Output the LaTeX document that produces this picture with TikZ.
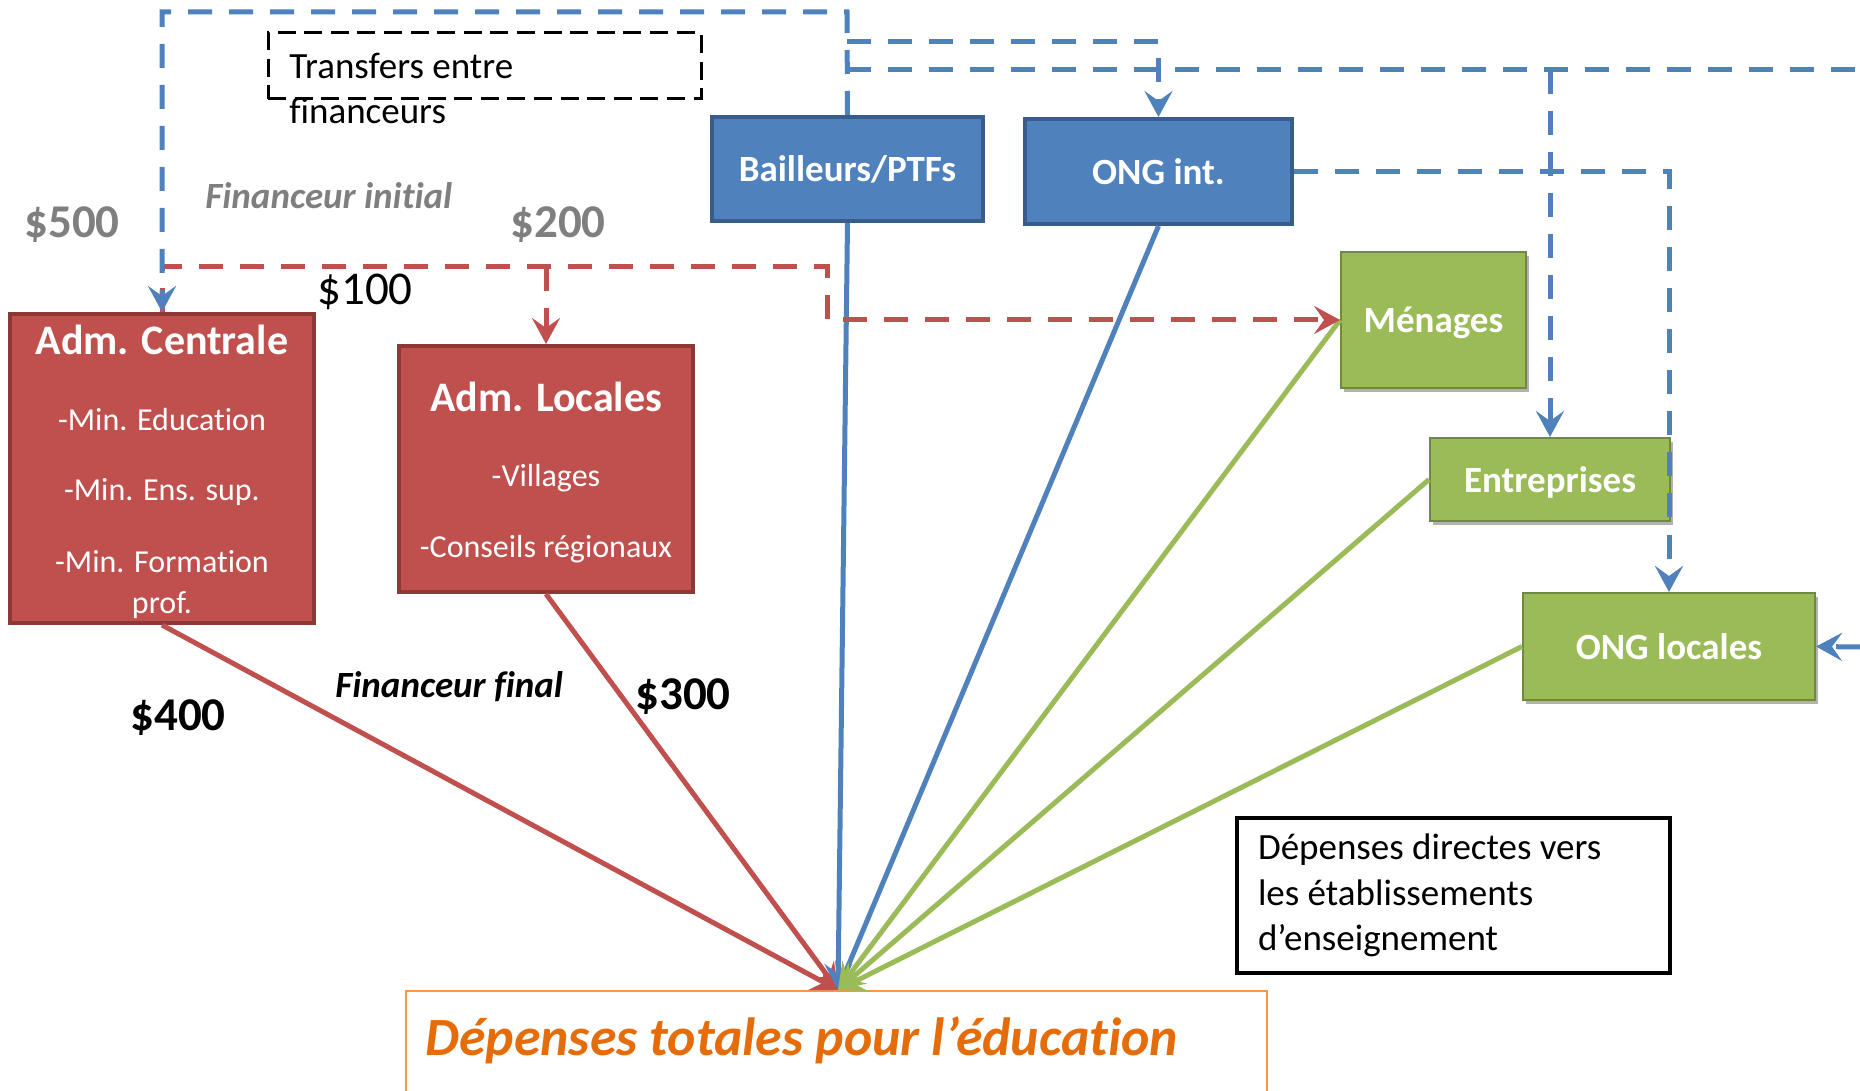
\documentclass[tikz,border=0pt]{standalone}
\usepackage{fontspec}
\setmainfont{Carlito}[Ligatures=NoCommon]
\usetikzlibrary{arrows.meta,shadows}
\definecolor{cred}{HTML}{C0504D}
\definecolor{credd}{HTML}{8C3836}
\definecolor{cblue}{HTML}{4F81BD}
\definecolor{cblued}{HTML}{385D8A}
\definecolor{cgreen}{HTML}{9BBB59}
\definecolor{cgreend}{HTML}{71893F}
\definecolor{cgray}{HTML}{7F7F7F}
\definecolor{corange}{HTML}{E46C0A}
\definecolor{corangel}{HTML}{F79646}
\begin{document}
\begin{tikzpicture}[x=0.5pt,y=-0.5pt,
  >={Stealth[length=13pt,width=14pt,inset=5pt]},
  redbox/.style={rectangle,draw=credd,line width=2pt,fill=cred,inner sep=0pt},
  boxlbl/.style={text=white,text depth=0pt,font=\fontsize{18.5}{22}\selectfont\bfseries},
  bluebox/.style={rectangle,draw=cblued,line width=2pt,fill=cblue,inner sep=0pt,boxlbl},
  greenbox/.style={rectangle,draw=cgreend,line width=1pt,fill=cgreen,inner sep=0pt,boxlbl,
     drop shadow={shadow xshift=1.5pt,shadow yshift=-2pt,opacity=0.3,fill=black}},
  boxtitle/.style={inner sep=0pt,text=white,font=\fontsize{21}{25}\selectfont\bfseries},
  boxitem/.style={inner sep=0pt,text=white,font=\fontsize{16}{20}\selectfont},
  money/.style={inner sep=0pt,font=\fontsize{23.5}{28}\selectfont},
  italbl/.style={inner sep=0pt,font=\fontsize{18.5}{22}\selectfont\bfseries\itshape},
  bdash/.style={draw=cblue,line width=2.5pt,dash pattern=on 12pt off 8.5pt},
  rdash/.style={draw=cred,line width=2.5pt,dash pattern=on 12pt off 8.5pt},
  flowred/.style={draw=cred,line width=2.5pt,->},
  flowblue/.style={draw=cblue,line width=2.5pt,->},
  flowgreen/.style={draw=cgreen,line width=2.5pt,->},
]
\useasboundingbox (0,0) rectangle (1860,1091);

% boxes
\node[redbox,minimum width=152pt,minimum height=154.5pt] (ac) at (162,468.5) {};
\node[redbox,minimum width=147pt,minimum height=123pt] (al) at (546,469) {};
\node[bluebox,minimum width=135.5pt,minimum height=52pt] (bp) at (847.5,169) {Bailleurs/PTFs};
\node[bluebox,minimum width=133.5pt,minimum height=52.5pt] (oi) at (1158.5,171.5) {ONG int.};
\node[greenbox,minimum width=92.5pt,minimum height=68pt] (me) at (1433.5,320) {Ménages};
\node[greenbox,minimum width=120pt,minimum height=41.5pt] (en) at (1550,479.5) {Entreprises};
\node[greenbox,minimum width=146pt,minimum height=53.5pt] (ol) at (1669,646.5) {ONG locales};
\node[rectangle,draw=none,minimum width=430.5pt,minimum height=50pt,anchor=north,inner sep=0pt,outer sep=0pt] (tot) at (836.5,991) {};
\draw[corangel,line width=1.2pt] (tot.south west) -- (tot.north west) -- (tot.north east) -- (tot.south east);
\node[anchor=base west,inner sep=0pt,text=corange,font=\fontsize{26.9}{31}\selectfont\bfseries\itshape] (totT) at (425,1055) {Dépenses totales pour l’éducation};

\node[rectangle,draw=black,line width=2pt,minimum width=216.5pt,minimum height=77.5pt,
  text width=195.5pt,inner xsep=10.5pt,inner ysep=0pt,align=flush left,
  font=\fontsize{18.5}{22.75}\selectfont] (dd) at (1453.5,895.5)
  {Dépenses directes vers\\les établissements\\d’enseignement};

\node[rectangle,draw=black,line width=1.5pt,dash pattern=on 9pt off 4.3pt,minimum width=216.5pt,minimum height=33pt] (tr) at (484.5,66) {};
\node[anchor=base west,inner sep=0pt,align=left,font=\fontsize{18.5}{22.5}\selectfont] (trT) at (289,124) {Transfers entre\\financeurs};

% box texts
\node[boxtitle,anchor=base] (acT) at (162,355) {Adm. Centrale};
\node[boxitem,anchor=base] (ac1) at (162,430) {-Min. Education};
\node[boxitem,anchor=base] (ac2) at (162,501) {-Min. Ens. sup.};
\node[boxitem,anchor=base] (ac3) at (162,572) {-Min. Formation};
\node[boxitem,anchor=base] (ac4) at (162,613) {prof.};
\node[boxtitle,anchor=base] (alT) at (546,412) {Adm. Locales};
\node[boxitem,anchor=base] (al1) at (546,487) {-Villages};
\node[boxitem,anchor=base] (al2) at (546,558) {-Conseils régionaux};

% labels
\node[money,text=cgray,font=\fontsize{23.5}{28}\selectfont\bfseries,anchor=base west] (v500) at (24,238) {\$500};
\node[money,text=cgray,font=\fontsize{23.5}{28}\selectfont\bfseries,anchor=base west] (v200) at (510,238) {\$200};
\node[money,anchor=base west] (v100) at (317,305) {\$100};
\node[money,font=\fontsize{23.5}{28}\selectfont\bfseries,anchor=base west] (v400) at (130,730) {\$400};
\node[money,font=\fontsize{23.5}{28}\selectfont\bfseries,anchor=base west] (v300) at (635,709) {\$300};
\node[italbl,text=cgray,anchor=base west] (fi) at (205,209) {Financeur initial};
\node[italbl,anchor=base west] (ff) at (335,697) {Financeur final};

% coordinates
\coordinate (conv) at (838,990);
\coordinate (tA) at (847,12);
\coordinate (tB) at (847,42);
\coordinate (tC) at (847,70);
\coordinate (eR1) at (1860,70);
\coordinate (eR2) at (1860,647);
\coordinate (rA) at (162,267);
\coordinate (rB) at (827,267);
\coordinate (rC) at (546,267);

% solid flows
\draw[flowred] (ac.south) -- (conv);
\draw[flowred] (al.south) -- (conv);
\draw[flowblue] (bp.south) -- (conv);
\draw[flowblue] (oi.south) -- (conv);
\draw[flowgreen] (me.west) -- (conv);
\draw[flowgreen] (en.west) -- (conv);
\draw[flowgreen] (ol.west) -- (conv);

% red transfers
\draw[rdash,->] (ac.north) -- (rA) -- (rB) |- (me.west);
\draw[rdash,->] (rC) -- (al.north);

% blue transfers
\draw[bdash,->] (bp.north) -- (tA) -| (ac.north);
\draw[bdash,->] (tB) -| (oi.north);
\draw[bdash] (tC) -- (eR1);
\draw[bdash,->] (tC -| en.north) -- (en.north);
\draw[bdash,->] (oi.east) -| (ol.north);
\draw[bdash,->] (eR2) -- (ol.east);
\end{tikzpicture}
\end{document}
